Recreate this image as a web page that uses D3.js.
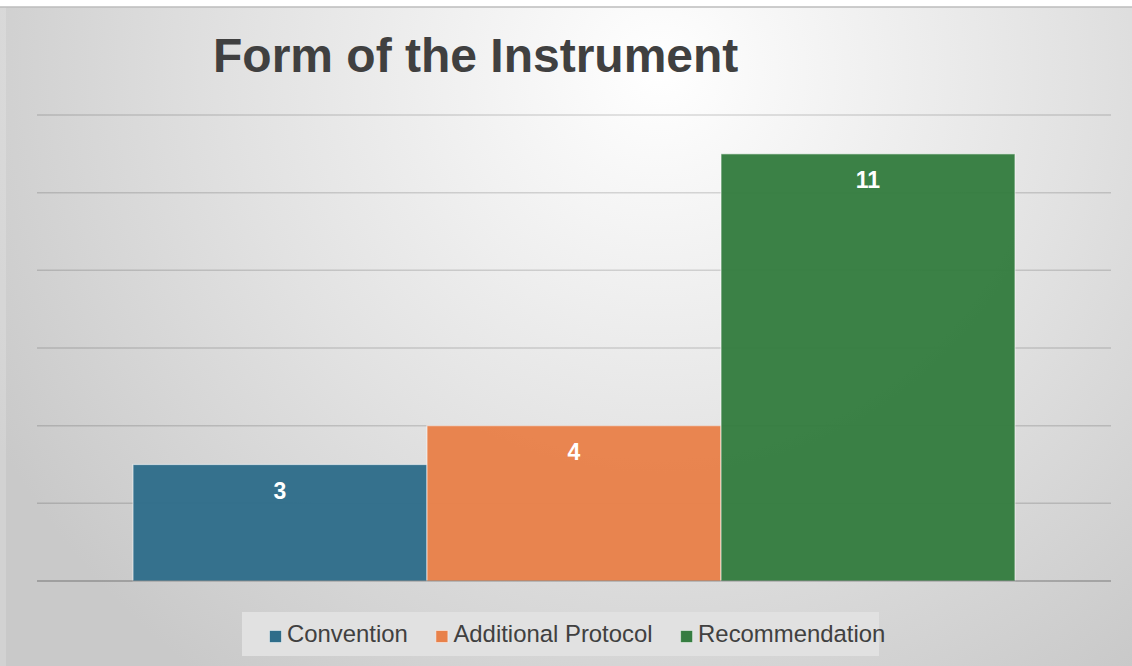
<!DOCTYPE html>
<html>
<head>
<meta charset="utf-8">
<script src="https://cdn.jsdelivr.net/npm/d3@7"></script>
<style>
  html, body { margin: 0; padding: 0; background: #ffffff; }
  svg { display: block; }
  text { font-family: "Liberation Sans", Arial, sans-serif; }
</style>
</head>
<body>
<svg id="chart" width="1132" height="666"></svg>
<script>
// Chart data
const title = "Form of the Instrument";
const seriesNames = ["Convention", "Additional Protocol", "Recommendation"];
const seriesValues = [3, 4, 11];
const seriesColors = ["#2f6d8a", "#e8814a", "#357d40"];
const gridTicks = [2, 4, 6, 8, 10, 12];

const W = 1132, H = 666;
const svg = d3.select("#chart");

// Background panel with a soft radial highlight
const defs = svg.append("defs");
const grad = defs.append("radialGradient")
  .attr("id", "bg").attr("gradientUnits", "userSpaceOnUse")
  .attr("cx", 660).attr("cy", 70).attr("r", 760);
grad.append("stop").attr("offset", 0).attr("stop-color", "#ffffff");
grad.append("stop").attr("offset", 0.55).attr("stop-color", "#e2e2e2");
grad.append("stop").attr("offset", 1).attr("stop-color", "#c9c9c9");

svg.append("rect").attr("x", 0).attr("y", 7).attr("width", W).attr("height", H - 7)
  .attr("fill", "url(#bg)");
svg.append("rect").attr("x", 0).attr("y", 7).attr("width", 6).attr("height", H - 7)
  .attr("fill", "#ffffff").attr("opacity", 0.18);
svg.append("line").attr("x1", 0).attr("x2", W).attr("y1", 7).attr("y2", 7)
  .attr("stroke", "#bdbdbd").attr("stroke-width", 1.5);

// Scales
const plot = { left: 37, right: 1111, top: 115, bottom: 581 };
const x = d3.scaleBand()
  .domain(seriesNames)
  .range([plot.left, plot.right])
  .paddingInner(0)
  .paddingOuter(0.3265);
const y = d3.scaleLinear().domain([0, 12]).range([plot.bottom, plot.top]);

// Gridlines
svg.append("g").selectAll("line").data(gridTicks).join("line")
  .attr("x1", plot.left).attr("x2", plot.right)
  .attr("y1", d => y(d)).attr("y2", d => y(d))
  .attr("stroke", "#000").attr("stroke-opacity", 0.14).attr("stroke-width", 1.5);

// Bars
const data = seriesNames.map((name, i) => ({ name, value: seriesValues[i], color: seriesColors[i] }));
svg.append("g").selectAll("rect").data(data).join("rect")
  .attr("x", d => x(d.name))
  .attr("y", d => y(d.value))
  .attr("width", x.bandwidth())
  .attr("height", d => y(0) - y(d.value))
  .attr("fill", d => d.color)
  .attr("fill-opacity", 0.97)
  .attr("stroke", "#ffffff").attr("stroke-opacity", 0.55).attr("stroke-width", 1.2);

// Baseline
svg.append("line").attr("x1", plot.left).attr("x2", plot.right)
  .attr("y1", y(0)).attr("y2", y(0))
  .attr("stroke", "#000").attr("stroke-opacity", 0.28).attr("stroke-width", 1.6);

// Value labels
svg.append("g").selectAll("text").data(data).join("text")
  .attr("x", d => x(d.name) + x.bandwidth() / 2)
  .attr("y", d => y(d.value) + 34.5)
  .attr("text-anchor", "middle")
  .attr("fill", "#ffffff")
  .attr("font-weight", "bold")
  .attr("font-size", 23)
  .text(d => d.value);

// Title
svg.append("text")
  .attr("x", 213).attr("y", 72)
  .attr("fill", "#404040")
  .attr("font-weight", "bold")
  .attr("font-size", 48)
  .text(title);

// Legend
svg.append("rect")
  .attr("x", 242).attr("y", 612).attr("width", 637).attr("height", 44)
  .attr("fill", "#e1e1e1");
const legend = svg.append("g");
let cx = 269.5;
data.forEach(d => {
  const item = legend.append("g");
  item.append("rect")
    .attr("x", cx).attr("y", 630.5).attr("width", 12).attr("height", 12)
    .attr("fill", d.color)
    .attr("stroke", "#ffffff").attr("stroke-opacity", 0.5).attr("stroke-width", 1);
  const t = item.append("text")
    .attr("x", cx + 17.5).attr("y", 642)
    .attr("fill", "#404040")
    .attr("font-size", 23.9)
    .text(d.name);
  const w = t.node().getComputedTextLength();
  cx = cx + 17.5 + w + 28;
});
</script>
</body>
</html>
